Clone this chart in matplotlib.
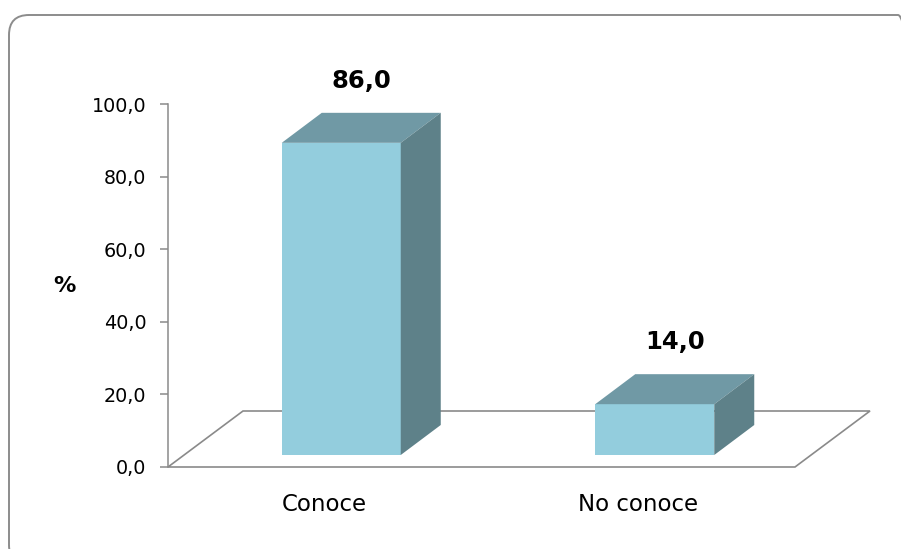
import numpy as np
import matplotlib.pyplot as plt
from matplotlib.patches import Polygon, Rectangle, FancyBboxPatch
from matplotlib.transforms import IdentityTransform

# data
categories = ['Conoce', 'No conoce']
values = [86.0, 14.0]
yticks = [0, 20, 40, 60, 80, 100]

front_col = '#93CDDD'
top_col = '#7099A5'
side_col = '#5E8189'
line_col = '#8A8A8A'

W, H = 901, 549
fig = plt.figure(figsize=(W / 100, H / 100), dpi=100)

# axes box in pixels: y axis at x=168, value 0 at y=467, 100 at y=104
ax_l, ax_r, ax_b, ax_t = 168, 870, 467, 104
ax = fig.add_axes([ax_l / W, (H - ax_b) / H, (ax_r - ax_l) / W, (ax_b - ax_t) / H])

px_x = 313.5                    # pixels per category unit
px_y = (ax_b - ax_t) / 100.0    # pixels per value unit
ax.set_xlim(0, (ax_r - ax_l) / px_x)
ax.set_ylim(0, 100)

# oblique depth vectors (pixels -> data units)
floor_d = (75 / px_x, 56 / px_y)
bar_off = (16.5 / px_x, 12 / px_y)
bar_d = (40 / px_x, 30 / px_y)
bar_w = 119 / px_x

n = len(categories)
centers = np.arange(n) + 0.5

# floor
floor = Polygon([(0, 0), (n, 0), (n + floor_d[0], floor_d[1]), (floor_d[0], floor_d[1])],
                closed=True, facecolor='white', edgecolor=line_col, lw=1.2,
                clip_on=False, zorder=1)
ax.add_patch(floor)

for c, v, lab in zip(centers, values, categories):
    x0 = c - bar_w / 2 + bar_off[0]
    y0 = bar_off[1]
    ax.add_patch(Rectangle((x0, y0), bar_w, v, facecolor=front_col,
                           edgecolor='none', clip_on=False, zorder=3))
    top = [(x0, y0 + v), (x0 + bar_w, y0 + v),
           (x0 + bar_w + bar_d[0], y0 + v + bar_d[1]), (x0 + bar_d[0], y0 + v + bar_d[1])]
    ax.add_patch(Polygon(top, closed=True, facecolor=top_col, edgecolor='none',
                         clip_on=False, zorder=3))
    side = [(x0 + bar_w, y0), (x0 + bar_w + bar_d[0], y0 + bar_d[1]),
            (x0 + bar_w + bar_d[0], y0 + v + bar_d[1]), (x0 + bar_w, y0 + v)]
    ax.add_patch(Polygon(side, closed=True, facecolor=side_col, edgecolor='none',
                         clip_on=False, zorder=3))
    # value label above the box
    ax.annotate(('%.1f' % v).replace('.', ','),
                xy=(x0 + (bar_w + bar_d[0]) / 2, y0 + v + bar_d[1]),
                xytext=(0, 23), textcoords='offset points',
                ha='center', va='center', fontsize=17.5, fontweight='bold',
                color='black', annotation_clip=False)
    # category label
    ax.annotate(lab, xy=(c, 0), xytext=(0, -27), textcoords='offset points',
                ha='center', va='center', fontsize=16.5, color='black',
                annotation_clip=False)

for s in ['top', 'right', 'bottom']:
    ax.spines[s].set_visible(False)
ax.spines['left'].set_color(line_col)
ax.spines['left'].set_linewidth(1.1)
ax.set_xticks([])
ax.set_yticks(yticks)
ax.set_yticklabels([('%.1f' % t).replace('.', ',') for t in yticks], fontsize=13.8)
ax.tick_params(axis='y', direction='out', length=5.5, width=1.1, color=line_col, pad=10)
ax.set_facecolor('none')

ax.set_ylabel('%', rotation=0, fontsize=16, fontweight='bold', va='center', ha='center')
ax.yaxis.set_label_coords((64.7 - ax_l) / (ax_r - ax_l), (ax_b - 286) / (ax_b - ax_t))

# rounded outer frame, running off the right and bottom edge
frame = FancyBboxPatch((9, -16), 909, H - 15 + 16, boxstyle='round,pad=0,rounding_size=20',
                       transform=IdentityTransform(), facecolor='none',
                       edgecolor='#8C8C8C', lw=1.4, zorder=0)
fig.patches.append(frame)

fig.savefig('out.png', dpi=100)
